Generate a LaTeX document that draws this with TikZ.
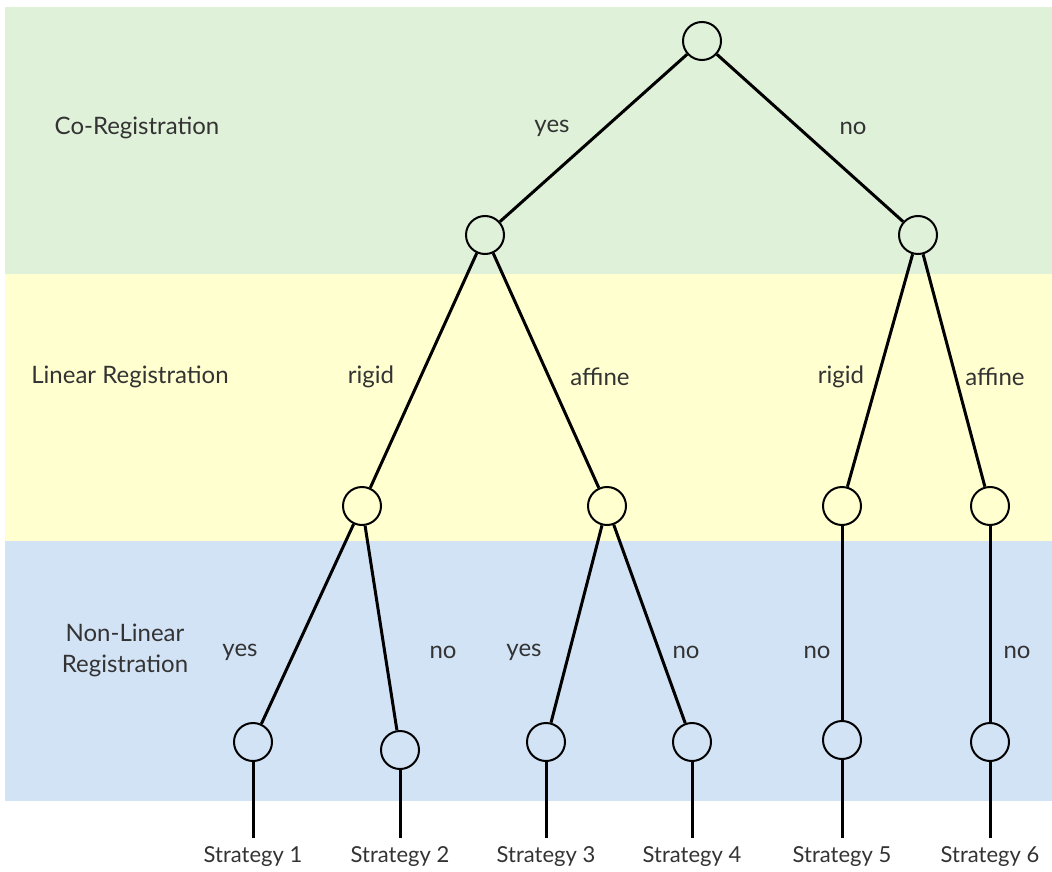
\documentclass[tikz,border=0pt]{standalone}
\usepackage{fontspec}
\setmainfont{Lato}
\definecolor{coband}{RGB}{224,241,218}
\definecolor{linband}{RGB}{255,255,208}
\definecolor{nlband}{RGB}{211,227,246}
\definecolor{inkgray}{RGB}{51,51,51}
\begin{document}
\begin{tikzpicture}[x=1pt,y=-1pt,
    choice/.style={circle,draw,line width=2pt,minimum size=38pt,inner sep=0pt},
    branch/.style={line width=3pt},
    stage/.style={font=\fontsize{24}{31}\selectfont,text=inkgray,align=center},
    answer/.style={font=\fontsize{24}{28}\selectfont,text=inkgray},
    result/.style={font=\fontsize{22}{26}\selectfont,text=inkgray,anchor=north}]
    \useasboundingbox (0,0) rectangle (1052,872);
    % bands
    \fill[coband] (5,7) rectangle (1052,274);
    \fill[linband] (5,274) rectangle (1052,541);
    \fill[nlband] (5,541) rectangle (1052,801);
    \node[stage] (co) at (137,128) {Co-Registration};
    \node[stage] (lin) at (130,377) {Linear Registration};
    \node[stage] (nonlin) at (125,650) {Non-Linear\\Registration};
    % decision nodes
    \node[choice] (root) at (702,41) {};
    \node[choice] (yesco) at (485,235) {};
    \node[choice] (noco) at (918,235) {};
    \node[choice] (yrigid) at (362,506) {};
    \node[choice] (yaffine) at (607,506) {};
    \node[choice] (nrigid) at (842,506) {};
    \node[choice] (naffine) at (990,506) {};
    \node[choice] (s1) at (253,742) {};
    \node[choice] (s2) at (400,750) {};
    \node[choice] (s3) at (546,742) {};
    \node[choice] (s4) at (692,742) {};
    \node[choice] (s5) at (842,740) {};
    \node[choice] (s6) at (990,742) {};
    % branches
    \draw[branch] (root) -- (yesco);
    \draw[branch] (root) -- (noco);
    \draw[branch] (yesco) -- (yrigid);
    \draw[branch] (yesco) -- (yaffine);
    \draw[branch] (noco) -- (nrigid);
    \draw[branch] (noco) -- (naffine);
    \draw[branch] (yrigid) -- (s1);
    \draw[branch] (yrigid) -- (s2);
    \draw[branch] (yaffine) -- (s3);
    \draw[branch] (yaffine) -- (s4);
    \draw[branch] (nrigid) -- (s5);
    \draw[branch] (naffine) -- (s6);
    % answers
    \node[answer] (a1) at (552,128) {yes};
    \node[answer] (a2) at (853,128) {no};
    \node[answer] (a3) at (371,377) {rigid};
    \node[answer] (a4) at (600,377) {affine};
    \node[answer] (a5) at (841,377) {rigid};
    \node[answer] (a6) at (995,377) {affine};
    \node[answer] (a7) at (240,652) {yes};
    \node[answer] (a8) at (443,652) {no};
    \node[answer] (a9) at (524,652) {yes};
    \node[answer] (a10) at (686,652) {no};
    \node[answer] (a11) at (817,652) {no};
    \node[answer] (a12) at (1017,652) {no};
    % leaves
    \foreach \i/\x in {1/253,2/400,3/546,4/692,5/842,6/990}{
      \coordinate (e\i) at (\x,838);
      \draw[branch] (s\i) -- (e\i);
      \node[result] (t\i) at (\x,843) {Strategy \i};
    }
\end{tikzpicture}
\end{document}
